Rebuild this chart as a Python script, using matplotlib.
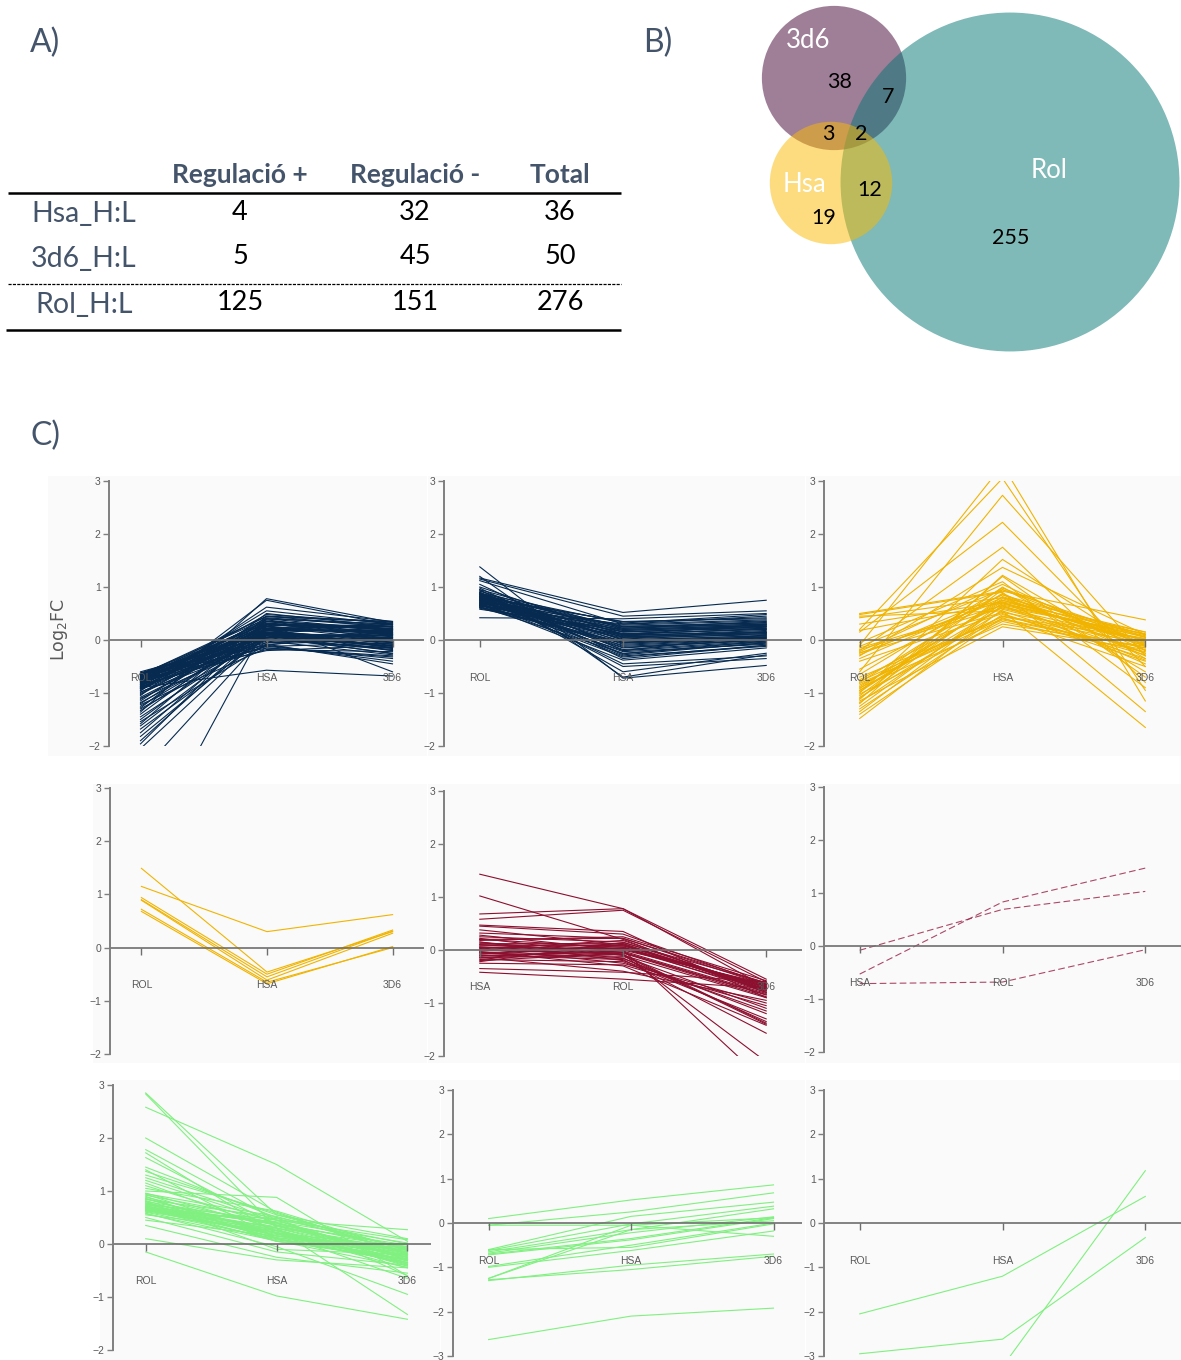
import matplotlib
matplotlib.use("Agg")
import matplotlib.pyplot as plt
from matplotlib.patches import Circle, Rectangle
import numpy as np

W, H = 1181, 1360
TXT = "#44546A"; AXC = "#7F7F7F"; TICKC = "#595959"
NAVY = "#062A50"; GOLD = "#F0B400"; WINE = "#8C0F2F"; GREEN = "#80F080"

# ---- table A
row_names = ["Hsa_H:L", "3d6_H:L", "Rol_H:L"]
col_names = ["Regulació +", "Regulació -", "Total"]
reg_up = [4, 5, 125]
reg_down = [32, 45, 151]

# ---- venn B: exclusive/shared counts
only_3d6, only_hsa, only_rol = 38, 19, 255
d6_rol, d6_hsa, hsa_rol, all3 = 7, 3, 12, 2

# ---- profiles C (one value per condition for each protein)
c1_rol = [-0.60,-0.62,-0.63,-0.64,-0.65,-0.66,-0.66,-0.67,-0.68,-0.69,
          -0.70,-0.70,-0.71,-0.72,-0.73,-0.74,-0.74,-0.75,-0.76,-0.77,
          -0.78,-0.78,-0.79,-0.80,-0.81,-0.82,-0.83,-0.84,-0.85,-0.86,
          -0.87,-0.88,-0.89,-0.90,-0.91,-0.92,-0.93,-0.95,-0.96,-0.98,
          -0.99,-1.01,-1.03,-1.05,-1.08,-1.10,-1.12,-1.15,-1.18,-1.20,
          -1.22,-1.25,-1.28,-1.30,-1.33,-1.36,-1.40,-1.45,-1.50,-1.54,
          -1.58,-1.62,-1.68,-1.75,-1.82,-1.90,-1.96,-2.05,-2.50,-4.10,
          -0.64,-0.90,-0.72,-0.76,-0.80,-0.84,-0.88,-0.92,-0.70,-0.66]
c1_hsa = [0.05,0.12,-0.10,0.30,0.20,-0.05,0.40,0.15,0.00,0.25,
          -0.15,0.35,0.10,0.45,-0.20,0.22,0.05,0.32,-0.08,0.18,
          0.28,0.02,0.38,-0.12,0.12,0.48,0.08,0.20,-0.18,0.30,
          0.15,0.55,-0.02,0.25,0.10,0.42,0.00,0.35,0.62,-0.10,
          0.18,0.05,0.28,0.75,0.12,-0.05,0.22,0.40,0.08,0.30,
          -0.15,0.15,0.50,0.02,0.20,0.78,0.35,0.10,0.25,-0.08,
          0.45,0.18,0.05,0.30,0.12,0.22,0.40,0.15,0.10,0.30,
          0.08,-0.57,0.20,0.36,0.02,0.26,-0.12,0.14,0.32,0.44]
c1_3d6 = [0.10,-0.05,0.20,0.25,-0.15,0.05,0.30,-0.20,0.15,0.00,
          -0.30,0.22,0.08,0.35,-0.10,0.12,-0.25,0.18,0.02,-0.08,
          0.28,-0.18,0.10,-0.35,0.05,0.32,-0.12,0.15,-0.22,0.20,
          0.00,0.30,-0.28,0.12,-0.05,0.25,-0.15,0.08,0.35,-0.40,
          0.18,-0.02,0.22,0.28,-0.10,0.05,0.14,0.30,-0.20,0.10,
          -0.32,0.02,0.25,-0.08,0.16,0.33,0.20,-0.14,0.06,-0.45,
          0.24,-0.04,0.12,-0.60,0.08,0.26,0.18,-0.12,0.04,0.14,
          -0.26,-0.68,0.30,0.20,-0.16,0.10,-0.06,0.22,0.02,0.34]

c2_rol = [1.38,1.17,1.15,1.20,1.12,1.05,1.00,0.98,0.95,0.93,
          0.92,0.90,0.89,0.88,0.87,0.86,0.85,0.84,0.83,0.82,
          0.81,0.80,0.79,0.78,0.77,0.76,0.75,0.74,0.73,0.72,
          0.71,0.70,0.69,0.68,0.67,0.66,0.65,0.64,0.63,0.62,
          0.61,0.60,0.58,0.42,0.90,0.85,0.80,0.75,0.70,0.65,
          0.88,0.78,0.68,0.95,0.72,0.82,0.62,0.76,0.86,0.66]
c2_hsa = [-0.72,0.52,0.45,-0.70,0.30,-0.20,0.10,-0.35,0.22,-0.05,
          0.15,-0.28,0.05,0.32,-0.12,0.20,-0.45,0.00,0.25,-0.18,
          0.12,-0.08,0.35,-0.30,0.08,0.18,-0.22,0.02,0.28,-0.15,
          0.10,-0.02,0.22,-0.38,0.06,0.15,-0.10,0.30,-0.25,0.04,
          0.12,-0.06,0.20,0.40,-0.50,0.26,-0.14,0.08,-0.32,0.16,
          0.00,0.24,-0.20,-0.60,0.10,0.34,-0.04,0.18,-0.26,0.06]
c2_3d6 = [-0.48,0.75,0.55,-0.28,0.45,0.10,0.30,-0.10,0.35,0.05,
          0.25,-0.05,0.15,0.48,0.00,0.28,-0.30,0.08,0.33,-0.02,
          0.20,0.03,0.40,-0.12,0.18,0.26,-0.08,0.12,0.36,0.00,
          0.22,0.06,0.30,-0.15,0.14,0.24,0.02,0.38,-0.06,0.10,
          0.20,0.04,0.28,0.50,-0.35,0.32,0.00,0.16,-0.10,0.22,
          0.08,0.30,-0.04,-0.25,0.14,0.42,0.06,0.26,-0.02,0.12]

c3_rol = [-0.10,0.20,-0.60,0.15,-0.20,-1.00,-0.30,-1.20,0.45,0.48,
          0.50,0.42,0.18,-0.12,-0.18,-0.22,-0.25,-0.28,-0.15,-0.40,
          -0.70,-0.75,-0.80,-0.85,-0.88,-0.90,-0.92,-0.95,-0.98,-1.02,
          -1.05,-1.08,-1.10,-1.15,-1.25,-1.30,-1.35,-1.40,-1.48,-0.05,
          -0.65,-0.82,-0.95,-1.12,-0.24,-0.55,0.30,-1.18,-0.78,-0.35]
c3_hsa = [3.30,3.05,2.73,2.22,1.75,1.52,1.37,1.22,0.55,0.90,
          0.92,0.80,0.70,0.95,0.60,1.05,0.75,0.85,0.65,0.50,
          0.40,0.68,0.88,0.45,0.72,0.30,1.00,0.62,0.78,0.35,
          0.95,0.55,0.82,0.25,0.70,0.48,0.66,0.42,0.58,1.10,
          0.98,0.38,0.75,1.20,0.52,0.86,0.72,0.64,0.44,0.80]
c3_3d6 = [-1.15,-0.95,-0.30,-0.50,-0.80,-0.20,0.10,-0.35,-1.65,-1.35,
          0.38,0.15,0.05,-0.10,0.00,-0.20,-0.05,0.10,-0.25,-0.40,
          -0.15,0.08,-0.30,0.02,-0.45,-0.12,-0.60,0.12,-0.08,-0.22,
          0.05,-0.35,-0.02,-0.18,0.00,-0.28,0.06,-0.50,-0.10,-0.90,
          -0.04,-0.15,0.10,-0.70,0.03,-0.25,0.15,-0.38,-0.06,-0.12]

c4_rol = [1.49, 1.15, 0.94, 0.90, 0.89, 0.72, 0.68]
c4_hsa = [-0.46, 0.30, -0.50, -0.55, -0.61, -0.65, -0.68]
c4_3d6 = [0.30, 0.62, 0.33, 0.31, 0.27, 0.00, 0.02]

c5_hsa = [1.43,1.02,0.68,0.58,0.47,0.45,0.38,0.32,0.28,0.25,
          0.22,0.20,0.18,0.15,0.12,0.10,0.08,0.06,0.05,0.03,
          0.02,0.00,-0.02,-0.03,-0.05,-0.06,-0.08,-0.10,-0.12,-0.14,
          -0.15,-0.18,-0.20,-0.22,-0.25,-0.35,-0.42,0.15,0.05,-0.05,
          0.10,-0.10,0.00,0.20,-0.15]
c5_rol = [0.78,0.20,0.78,0.75,0.35,0.30,0.10,0.22,0.00,0.15,
          -0.10,0.05,0.25,-0.20,0.12,-0.05,0.08,-0.15,0.02,-0.25,
          0.18,-0.08,0.06,-0.30,0.00,-0.12,0.10,-0.18,-0.02,-0.40,
          0.04,-0.22,-0.06,0.14,-0.28,-0.42,-0.55,-0.10,0.03,-0.16,
          0.08,-0.04,0.12,0.22,-0.08]
c5_3d6 = [-0.55,-0.80,-0.70,-0.60,-0.90,-0.65,-0.75,-0.62,-2.50,-0.72,
          -1.40,-0.68,-0.58,-1.15,-0.78,-0.85,-0.70,-1.35,-0.66,-1.00,
          -0.74,-2.11,-0.80,-1.42,-0.64,-1.10,-0.76,-1.57,-0.82,-0.95,
          -0.70,-1.30,-0.88,-0.62,-1.05,-0.60,-0.72,-0.90,-0.76,-1.20,
          -0.68,-0.84,-0.74,-0.66,-1.38]

c6_hsa = [-0.08, -0.53, -0.71]
c6_rol = [0.69, 0.83, -0.68]
c6_3d6 = [1.03, 1.47, -0.07]

c7_rol = [2.85,2.83,2.58,2.00,1.78,1.72,1.63,1.45,1.40,1.37,
          1.20,1.15,1.05,1.00,0.96,0.94,0.92,0.90,0.88,0.86,
          0.84,0.82,0.80,0.78,0.76,0.75,0.74,0.72,0.71,0.70,
          0.69,0.68,0.67,0.66,0.65,0.64,0.63,0.62,0.60,0.58,
          0.55,0.50,0.45,0.35,0.10,-0.15,1.30,1.10,0.85,0.73,
          0.68,0.64,0.80,0.70,0.66,0.95,0.61,0.77,1.25,0.57]
c7_hsa = [0.55,0.30,1.50,0.60,0.45,0.20,0.35,0.50,0.10,0.55,
          0.40,0.25,0.62,0.88,0.30,0.15,0.45,0.05,0.35,0.20,
          0.50,0.10,0.40,0.25,0.15,0.45,0.30,0.05,0.38,0.22,
          0.12,0.42,0.28,0.18,0.08,0.33,0.20,0.48,0.10,-0.05,
          0.25,-0.15,0.15,-0.25,-0.30,-0.98,0.58,0.35,0.20,0.12,
          0.40,0.26,-0.10,0.30,0.16,0.52,0.22,0.36,0.45,0.06]
c7_3d6 = [-0.10,-1.33,0.05,-0.20,-0.30,-0.05,-0.15,-0.60,-0.35,0.10,
          -0.25,-0.40,-0.12,-0.60,-0.22,-0.08,0.27,-0.30,-0.18,-0.45,
          0.00,-0.28,-0.10,-0.35,-0.20,0.08,-0.32,-0.15,-0.05,-0.38,
          -0.25,0.02,-0.42,-0.12,-0.30,-0.20,-0.65,-0.08,-0.35,-0.95,
          -0.22,-0.40,-0.10,-0.55,-0.45,-1.42,-0.18,-0.28,-0.32,-0.12,
          -0.26,-0.38,-0.20,-0.06,-0.30,-0.16,-0.24,-0.02,-0.36,-0.44]

c8_rol = [0.10,-0.05,-0.60,-0.62,-0.65,-0.70,-0.72,-0.98,-1.00,-1.25,-1.28,-1.30,-2.63,-0.05,-0.60,-1.25,-0.68]
c8_hsa = [0.52,0.25,0.15,-0.02,-0.15,-0.35,-0.38,-0.50,-0.62,-0.05,-1.05,-0.95,-2.10,-0.05,-0.55,-0.15,-0.22]
c8_3d6 = [0.86,0.68,0.47,0.38,0.32,0.12,0.10,0.00,-0.18,0.12,-0.75,-0.70,-1.92,-0.30,-0.02,0.05,0.14]

c9_rol = [-2.05, -2.95, -3.60]
c9_hsa = [-1.20, -2.62, -3.24]
c9_3d6 = [0.60, -0.33, 1.18]

plt.rcParams["font.family"] = ["Lato", "DejaVu Sans"]
fig = plt.figure(figsize=(W / 100, H / 100), dpi=100)
fig.patch.set_facecolor("white")

# canvas in pixel units, y pointing down
base = fig.add_axes([0, 0, 1, 1], zorder=0)
base.set_xlim(0, W); base.set_ylim(H, 0); base.axis("off")

def frac(x0, y0, x1, y1):
    return [x0 / W, 1 - y1 / H, (x1 - x0) / W, (y1 - y0) / H]

# ---------------- A) table
base.text(30, 43, "A)", fontsize=23, color=TXT, ha="left", va="center")
col_x = [240, 415, 560]
for x, name in zip(col_x, col_names):
    base.text(x, 175, name, fontsize=19, fontweight="bold", color=TXT, ha="center", va="center")
row_y = [212, 257, 303]
for y, rn, u, d in zip(row_y, row_names, reg_up, reg_down):
    base.text(84, y + 2, rn, fontsize=20.5, color=TXT, ha="center", va="center")
    for x, v in zip(col_x, [u, d, u + d]):
        base.text(x, y, str(v), fontsize=19.5, color="black", ha="center", va="center")
base.plot([8, 621], [193, 193], color="black", lw=1.8, solid_capstyle="butt")
base.plot([8, 621], [284, 284], color="black", lw=0.9, ls=(0, (2.5, 1)))
base.plot([6, 621], [330, 330], color="black", lw=1.8, solid_capstyle="butt")

# ---------------- B) venn, circle area proportional to set size
n_3d6 = only_3d6 + d6_rol + d6_hsa + all3
n_hsa = only_hsa + hsa_rol + d6_hsa + all3
n_rol = only_rol + d6_rol + hsa_rol + all3
k = 10.2
base.text(643, 43, "B)", fontsize=23, color=TXT, ha="left", va="center")
base.add_patch(Circle((834, 78), k * np.sqrt(n_3d6), color="#410031", alpha=0.5, lw=0))
base.add_patch(Circle((1010, 182), k * np.sqrt(n_rol), color="#017573", alpha=0.5, lw=0))
base.add_patch(Circle((831, 183), k * np.sqrt(n_hsa), color="#FBBB01", alpha=0.5, lw=0))
for x, y, s in [(808, 40, "3d6"), (804, 184, "Hsa"), (1049, 170, "Rol")]:
    base.text(x, y, s, fontsize=18.5, color="white", ha="center", va="center")
for x, y, v in [(840, 82, only_3d6), (888, 97, d6_rol), (828, 134, d6_hsa), (861, 134, all3),
                (870, 190, hsa_rol), (824, 218, only_hsa), (1011, 238, only_rol)]:
    base.text(x, y, str(v), fontsize=15.5, color="black", ha="center", va="center")

# ---------------- C) profile panels
base.text(30, 436, "C)", fontsize=23, color=TXT, ha="left", va="center")
for bx0, by0, bx1, by1 in [(48, 476, 427, 756), (428, 476, 805, 756), (806, 476, 1181, 756),
                           (93, 784, 427, 1063), (428, 784, 805, 1063), (806, 784, 1181, 1063),
                           (100, 1080, 440, 1360), (441, 1080, 805, 1360), (806, 1080, 1181, 1360)]:
    base.add_patch(Rectangle((bx0, by0), bx1 - bx0, by1 - by0, color="#FAFAFA", lw=0))
base.text(60, 630, "Log$_2$FC", fontsize=12.5, color=TICKC, rotation=90,
          ha="center", va="center", family="DejaVu Sans")

def panel(px, xmax, ylim, names, series, color, ls="-", alpha=1.0):
    ax = fig.add_axes(frac(*px), zorder=1)
    ax.patch.set_alpha(0)
    ax.set_xlim(-0.25, xmax); ax.set_ylim(*ylim)
    xs = np.arange(3)
    for prof in zip(*series):
        ax.plot(xs, prof, color=color, lw=0.8, ls=ls, alpha=alpha)
    ax.axhline(0, color="#6E6E6E", lw=1.2)
    ax.plot(xs, [0, 0, 0], ls="", marker=3, ms=5, mew=1, color="#6E6E6E", clip_on=False)
    for x, n in zip(xs, names):
        ax.annotate(n, (x, 0), xytext=(0, -27), textcoords="offset points", ha="center",
                    va="center", fontsize=7.5, color=TICKC, family="Liberation Sans")
    for s in ["top", "right", "bottom"]:
        ax.spines[s].set_visible(False)
    ax.spines["left"].set_color(AXC); ax.spines["left"].set_linewidth(1.4)
    ax.set_xticks([])
    ax.set_yticks(range(ylim[0], ylim[1] + 1))
    ax.tick_params(axis="y", length=4, width=1, color=AXC, labelsize=7.5, labelcolor=TICKC, pad=2)
    for t in ax.get_yticklabels():
        t.set_family("Liberation Sans")
    return ax

RHD = ["ROL", "HSA", "3D6"]
HRD = ["HSA", "ROL", "3D6"]
panel((109, 481, 424, 746), 2.25, (-2, 3), RHD, [c1_rol, c1_hsa, c1_3d6], NAVY)
panel((444, 481, 802, 746), 2.25, (-2, 3), RHD, [c2_rol, c2_hsa, c2_3d6], NAVY)
panel((824, 481, 1181, 746), 2.25, (-2, 3), RHD, [c3_rol, c3_hsa, c3_3d6], GOLD)
panel((110, 788, 424, 1054), 2.25, (-2, 3), RHD, [c4_rol, c4_hsa, c4_3d6], GOLD)
panel((444, 791, 802, 1056), 2.25, (-2, 3), HRD, [c5_hsa, c5_rol, c5_3d6], WINE)
panel((824, 787, 1181, 1052), 2.25, (-2, 3), HRD, [c6_hsa, c6_rol, c6_3d6], "#9C2A4C",
      ls=(0, (6, 3)), alpha=0.85)
panel((113, 1085, 431, 1350), 2.18, (-2, 3), RHD, [c7_rol, c7_hsa, c7_3d6], GREEN)
panel((453, 1090, 802, 1356), 2.2, (-3, 3), RHD, [c8_rol, c8_hsa, c8_3d6], GREEN)
panel((824, 1090, 1181, 1356), 2.25, (-3, 3), RHD, [c9_rol, c9_hsa, c9_3d6], GREEN)

fig.savefig("out.png", dpi=100, facecolor="white")
